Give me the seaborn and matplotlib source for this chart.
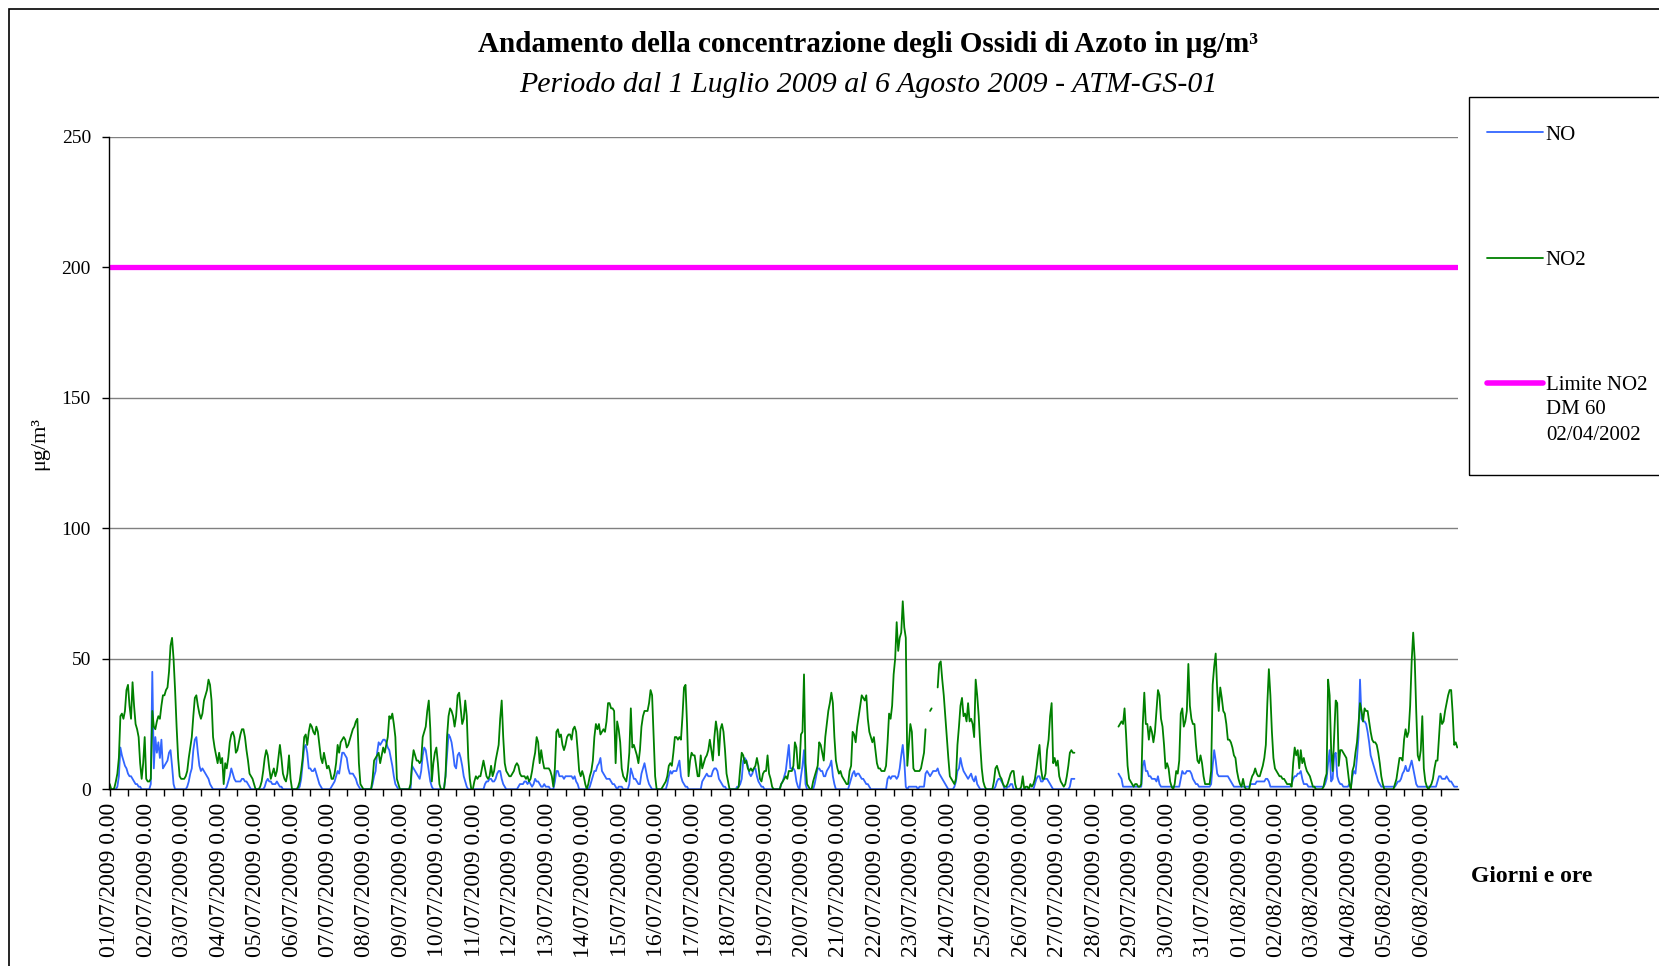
import numpy as np
import pandas as pd
import seaborn as sns
import matplotlib.pyplot as plt
from matplotlib.lines import Line2D
from matplotlib.patches import Rectangle

# valori orari, una lista di 24 ore per giorno (None = dato mancante)
no2_giorni = [
    [2, 0, 0, 0.5, 3, 6, 12, 28, 29, 27, 30, 38, 40, 32, 27, 41, 32, 25, 23, 20, 10, 4, 10, 20],
    [4, 3, 3, 4, 30, 24, 23, 26, 28, 27, 32, 36, 36, 38, 39, 45, 55, 58, 50, 38, 24, 12, 5, 4],
    [4, 4, 5, 7, 12, 16, 20, 28, 35, 36, 32, 29, 27, 29, 34, 36, 38, 42, 40, 34, 20, 16, 13, 10],
    [14, 10, 12, 2, 10, 8, 12, 18, 21, 22, 20, 14, 15, 18, 21, 23, 23, 20, 15, 11, 6, 5, 4, 2],
    [0, 0, 0, 1, 3, 7, 12, 15, 13, 8, 4, 6, 8, 5, 7, 12, 17, 12, 6, 4, 3, 6, 13, 4],
    [0, 0, 0, 0, 1, 3, 7, 12, 20, 21, 17, 22, 25, 24, 22, 21, 24, 22, 17, 12, 10, 14, 11, 8],
    [9, 7, 4, 4, 6, 10, 17, 14, 18, 19, 20, 19, 16, 17, 19, 21, 23, 24, 26, 27, 10, 2, 1, 0],
    [0, 0, 0, 0, 0, 4, 11, 12, 13, 14, 10, 13, 16, 14, 17, 20, 28, 27, 29, 25, 20, 4, 2, 0],
    [0, 0, 0, 0, 0, 0, 2, 10, 15, 13, 11, 11, 10, 11, 20, 22, 24, 30, 34, 23, 3, 10, 14, 16],
    [10, 2, 0, 0, 0, 5, 20, 28, 31, 30, 28, 24, 28, 36, 37, 31, 25, 27, 34, 28, 12, 4, 0, 0],
    [3, 5, 4, 5, 5, 8, 11, 8, 5, 4, 5, 9, 5, 7, 11, 14, 17, 27, 34, 20, 10, 7, 6, 5],
    [5, 6, 7, 9, 10, 9, 6, 5, 5, 5, 4, 5, 3, 4, 7, 11, 14, 20, 18, 10, 15, 11, 8, 8],
    [8, 8, 7, 5, 1, 8, 22, 23, 20, 21, 17, 15, 17, 20, 21, 21, 19, 23, 24, 22, 15, 7, 5, 7],
    [5, 2, 0, 2, 5, 7, 11, 20, 25, 23, 25, 21, 22, 23, 22, 26, 33, 33, 31, 31, 30, 10, 26, 23],
    [18, 8, 5, 4, 3, 7, 14, 31, 16, 17, 15, 13, 10, 15, 24, 28, 30, 30, 30, 33, 38, 36, 20, 5],
    [0, 0, 0, 0, 1, 2, 3, 5, 9, 10, 9, 14, 20, 20, 19, 20, 19, 28, 39, 40, 25, 5, 11, 14],
    [13, 13, 9, 5, 5, 13, 8, 10, 12, 13, 15, 19, 15, 11, 20, 26, 22, 13, 23, 25, 22, 15, 6, 3],
    [0, 0, 0, 0, 0, 0, 1, 8, 14, 13, 10, 11, 8, 7, 8, 7, 8, 9, 12, 9, 4, 3, 6, 7],
    [7, 13, 6, 4, 1, 0, 0, 0, 0, 0, 2, 3, 4, 5, 4, 7, 7, 7, 9, 18, 16, 8, 8, 21],
    [22, 44, 10, 2, 1, 0, 0, 3, 5, 7, 9, 18, 17, 14, 11, 20, 25, 30, 33, 37, 33, 20, 11, 8],
    [6, 7, 5, 4, 3, 2, 2, 7, 9, 22, 21, 18, 24, 28, 32, 36, 35, 34, 36, 27, 22, 20, 18, 20],
    [15, 10, 8, 8, 7, 7, 7, 9, 18, 29, 27, 32, 44, 50, 64, 53, 58, 60, 72, 62, 58, 9, 17, 25],
    [22, 8, 7, 7, 7, 7, 8, 11, 14, 23, None, None, 30, 31, None, None, None, 39, 48, 49, 42, 36, 28, 20],
    [12, 5, 4, 3, 2, 4, 17, 24, 32, 35, 28, 29, 26, 33, 26, 27, 25, 20, 42, 36, 28, 17, 8, 3],
    [1, 0, 0, 0, 0, 0, 3, 8, 9, 7, 5, 4, 2, 1, 1, 2, 4, 6, 7, 7, 2, 0, 0, 0],
    [1, 5, 0, 1, 1, 0, 2, 1, 2, 4, 8, 13, 17, 8, 4, 4, 6, 15, 19, 28, 33, 10, 12, 9],
    [11, 5, 3, 2, 1, 2, 5, 9, 14, 15, 14, 14] + [None] * 12,
    [None] * 16 + [24, 25, 26, 25, 31, 21, 9, 4],
    [3, 2, 1, 2, 2, 1, 1, 2, 25, 37, 25, 25, 19, 24, 22, 18, 22, 30, 38, 36, 27, 24, 17, 8],
    [10, 8, 3, 1, 0, 2, 7, 6, 11, 29, 31, 24, 26, 30, 48, 32, 27, 25, 25, 17, 11, 10, 13, 10],
    [5, 2, 2, 2, 2, 7, 40, 47, 52, 38, 30, 39, 35, 30, 29, 25, 19, 19, 18, 16, 13, 12, 7, 4],
    [2, 1, 4, 1, 0, 0, 0, 3, 5, 6, 8, 6, 5, 5, 7, 9, 12, 17, 33, 46, 36, 22, 12, 8],
    [7, 6, 5, 5, 4, 4, 3, 2, 2, 2, 1, 10, 16, 13, 15, 8, 15, 10, 12, 9, 7, 6, 5, 3],
    [1, 1, 0, 0, 0, 0, 0, 1, 4, 6, 42, 36, 15, 7, 21, 34, 33, 9, 15, 15, 14, 13, 12, 7],
    [2, 0, 7, 9, 14, 18, 25, 33, 30, 26, 31, 30, 30, 26, 22, 19, 18, 18, 17, 14, 10, 5, 2, 0],
    [0, 0, 0, 0, 0, 0, 2, 4, 8, 12, 12, 11, 19, 23, 20, 22, 32, 49, 60, 50, 30, 13, 11, 15],
    [28, 8, 3, 1, 0, 1, 2, 4, 8, 11, 11, 20, 29, 25, 26, 30, 33, 36, 38, 38, 29, 17, 18, 16],
]

no_giorni = [
    [0, 0, 0, 0, 0, 1, 5, 16, 13, 11, 9, 8, 6, 5, 5, 4, 3, 2, 2, 1, 1, 0, 0, 0],
    [0, 0, 0, 2, 45, 8, 20, 14, 18, 12, 19, 8, 9, 10, 11, 14, 15, 9, 2, 0, 0, 0, 0, 0],
    [0, 0, 0, 1, 3, 6, 8, 15, 19, 20, 14, 9, 7, 8, 7, 6, 5, 4, 2, 1, 0, 0, 0, 0],
    [0, 0, 0, 0, 0, 1, 3, 5, 8, 6, 4, 3, 3, 3, 3, 4, 4, 3, 3, 2, 1, 0, 0, 0],
    [0, 0, 0, 0, 0, 0, 1, 3, 4, 3, 3, 2, 2, 2, 3, 2, 1, 1, 0, 0, 0, 0, 0, 0],
    [0, 0, 0, 0, 0, 1, 4, 10, 16, 17, 14, 8, 8, 7, 7, 8, 6, 4, 2, 1, 0, 0, 0, 0],
    [0, 0, 1, 2, 3, 5, 7, 6, 10, 14, 14, 13, 12, 8, 6, 6, 6, 5, 4, 2, 1, 0, 0, 0],
    [0, 0, 0, 0, 0, 2, 5, 7, 14, 18, 17, 18, 19, 19, 18, 16, 15, 12, 9, 5, 2, 1, 0, 0],
    [0, 0, 0, 0, 0, 0, 0, 9, 8, 7, 6, 5, 4, 7, 13, 16, 15, 11, 7, 3, 1, 0, 0, 0],
    [0, 0, 0, 0, 0, 5, 13, 21, 20, 18, 14, 9, 8, 13, 14, 12, 9, 5, 3, 1, 0, 0, 0, 0],
    [0, 0, 0, 0, 0, 0, 0, 2, 3, 3, 4, 4, 3, 3, 4, 6, 7, 7, 4, 2, 1, 0, 0, 0],
    [0, 0, 0, 0, 0, 1, 2, 2, 2, 3, 3, 2, 3, 2, 1, 2, 4, 3, 3, 2, 1, 1, 2, 1],
    [1, 1, 0, 0, 0, 3, 7, 7, 5, 5, 5, 4, 5, 5, 5, 5, 5, 4, 5, 3, 2, 0, 0, 0],
    [0, 0, 0, 0, 1, 3, 5, 7, 7, 9, 10, 12, 7, 6, 5, 4, 4, 4, 3, 2, 2, 1, 0, 1],
    [1, 1, 0, 0, 0, 0, 2, 8, 6, 4, 4, 3, 2, 2, 6, 8, 10, 7, 4, 2, 1, 0, 0, 0],
    [0, 0, 0, 0, 0, 0, 0, 2, 5, 7, 6, 7, 7, 7, 9, 11, 5, 3, 2, 1, 1, 0, 0, 0],
    [0, 0, 0, 0, 0, 0, 3, 4, 5, 6, 5, 5, 5, 7, 8, 8, 7, 4, 3, 2, 1, 1, 0, 0],
    [0, 0, 0, 0, 0, 1, 1, 2, 4, 11, 12, 11, 9, 6, 5, 6, 8, 8, 5, 3, 2, 1, 1, 0],
    [0, 0, 0, 0, 0, 0, 0, 0, 0, 0, 2, 3, 5, 7, 12, 17, 8, 8, 8, 7, 3, 1, 0, 5],
    [9, 15, 2, 0, 0, 0, 0, 0, 2, 5, 8, 8, 7, 7, 5, 5, 7, 8, 9, 11, 5, 2, 0, 0],
    [0, 0, 0, 0, 0, 0, 0, 2, 4, 6, 7, 5, 6, 6, 5, 4, 4, 3, 2, 2, 1, 0, 0, 0],
    [0, 0, 0, 0, 0, 0, 0, 0, 4, 5, 4, 5, 5, 5, 4, 5, 8, 13, 17, 11, 1, 0, 1, 1],
    [1, 1, 1, 1, 0, 1, 1, 1, 1, 6, 7, 6, 5, 6, 7, 7, 7, 8, 6, 5, 4, 3, 2, 1],
    [0, 0, 0, 0, 1, 3, 7, 8, 12, 9, 7, 6, 5, 4, 5, 6, 4, 3, 5, 2, 1, 0, 0, 0],
    [0, 0, 0, 0, 0, 0, 0, 1, 3, 4, 4, 3, 2, 0, 0, 1, 1, 2, 2, 0, 0, 0, 0, 0],
    [0, 0, 0, 0, 0, 0, 0, 0, 0, 2, 4, 5, 5, 3, 3, 4, 4, 4, 3, 2, 1, 0, 0, 0],
    [0, 0, 0, 0, 0, 0, 0, 0, 1, 4, 4, 4] + [None] * 12,
    [None] * 16 + [6, 5, 4, 1, 1, 1, 1, 1],
    [1, 1, 1, 1, 1, 1, 1, 1, 9, 11, 7, 7, 5, 5, 4, 4, 4, 3, 5, 2, 1, 1, 1, 1],
    [1, 1, 1, 1, 1, 1, 1, 1, 1, 4, 7, 6, 6, 7, 7, 7, 6, 4, 3, 2, 2, 1, 1, 1],
    [1, 1, 1, 1, 1, 2, 9, 15, 11, 6, 5, 5, 5, 5, 5, 5, 5, 4, 3, 2, 1, 1, 1, 1],
    [1, 1, 1, 1, 1, 1, 1, 2, 2, 2, 2, 3, 3, 3, 3, 3, 3, 4, 4, 3, 1, 1, 1, 1],
    [1, 1, 1, 1, 1, 1, 1, 1, 1, 1, 2, 4, 5, 5, 6, 6, 7, 4, 2, 2, 2, 1, 1, 1],
    [1, 1, 1, 1, 1, 1, 1, 1, 2, 4, 10, 15, 3, 4, 13, 14, 5, 3, 2, 2, 1, 1, 1, 1],
    [2, 1, 5, 7, 6, 12, 20, 42, 27, 26, 26, 25, 22, 18, 13, 11, 9, 7, 5, 3, 2, 1, 1, 1],
    [1, 1, 1, 1, 1, 1, 1, 2, 3, 3, 4, 6, 7, 9, 7, 7, 9, 11, 8, 5, 2, 1, 1, 1],
    [1, 1, 1, 1, 1, 1, 1, 1, 1, 1, 3, 5, 5, 4, 4, 4, 5, 4, 3, 3, 2, 1, 1, 1],
]

limite_no2 = 200
giorni = pd.date_range('2009-07-01', '2009-08-06', freq='D')
etichette = [d.strftime('%d/%m/%Y') + ' 0.00' for d in giorni]

colori = {'NO': '#3366FF', 'NO2': '#008000'}
magenta = '#FF00FF'

no2 = np.array([np.nan if v is None else v for g in no2_giorni for v in g], dtype=float)
no = np.array([np.nan if v is None else v for g in no_giorni for v in g], dtype=float)
ore = np.arange(len(no2))


def tratti(valori, nome):
    # spezza la serie dove mancano i dati, cosi' la linea resta interrotta
    buco = np.isnan(valori)
    df = pd.DataFrame({'ora': ore, 'valore': valori, 'serie': nome,
                       'tratto': np.cumsum(buco)})
    return df[~buco]


dati = pd.concat([tratti(no, 'NO'), tratti(no2, 'NO2')], ignore_index=True)

sns.set_theme(style='ticks', rc={'axes.edgecolor': 'black', 'xtick.color': 'black',
                                 'ytick.color': 'black', 'text.color': 'black'})
plt.rcParams['font.family'] = ['Liberation Serif', 'DejaVu Serif']

W, H = 1659, 966
fig = plt.figure(figsize=(W / 100, H / 100), dpi=100)
ax = fig.add_axes([109 / W, 1 - 789.3 / H, (1458 - 109) / W, (789.3 - 136.5) / H])

sns.lineplot(data=dati, x='ora', y='valore', hue='serie', units='tratto', estimator=None,
             hue_order=['NO', 'NO2'], palette=colori, linewidth=1.3, legend=False, ax=ax)
sns.lineplot(x=ore, y=np.full(len(ore), limite_no2), color=magenta, linewidth=3.8, ax=ax)

ax.set_xlim(-0.5, len(ore) - 0.5)
ax.set_ylim(0, 250)
ax.set_yticks([0, 50, 100, 150, 200, 250])
ax.set_xticks(np.arange(0, len(ore), 24))
ax.set_xticklabels(etichette, rotation=90, fontsize=17)
ax.set_xticks(np.arange(12, len(ore), 24), minor=True)
ax.grid(axis='y', color='#808080', linewidth=1)
ax.set_axisbelow(True)
ax.set_xlabel('')
ax.set_ylabel('')
for s in ['top', 'right']:
    ax.spines[s].set_visible(False)
for s in ['left', 'bottom']:
    ax.spines[s].set_color('black')
    ax.spines[s].set_linewidth(1)
ax.tick_params(axis='y', left=True, length=5, width=1, pad=8, labelsize=14)
ax.tick_params(axis='x', which='both', bottom=True, length=5, width=1, pad=5)

fig.text(868 / W, 1 - 45 / H, 'Andamento della concentrazione degli Ossidi di Azoto in μg/m³',
         ha='center', va='center', fontsize=21, fontweight='bold')
fig.text(868 / W, 1 - 85 / H, 'Periodo dal 1 Luglio 2009 al 6 Agosto 2009 - ATM-GS-01',
         ha='center', va='center', fontsize=21.5, style='italic')
fig.text(40 / W, 1 - 444 / H, 'μg/m³', rotation=90, ha='center', va='center', fontsize=16)
fig.text(1532 / W, 1 - 876 / H, 'Giorni e ore', ha='center', va='center',
         fontsize=17, fontweight='bold')

# legenda
maniglie = [Line2D([], [], color=colori['NO'], lw=1.3),
            Line2D([], [], color=colori['NO2'], lw=1.3),
            Line2D([], [], color=magenta, lw=4)]
fig.legend(maniglie, ['NO', 'NO2', 'Limite NO2'], loc='upper left',
           bbox_to_anchor=(1487 / W, 1 - 125 / H), frameon=False, fontsize=15,
           handlelength=2.7, handletextpad=0.12, labelspacing=5.07, borderpad=0,
           borderaxespad=0)
fig.text(1546 / W, 1 - 410 / H, 'DM 60', ha='left', va='center', fontsize=15)
fig.text(1546 / W, 1 - 436 / H, '02/04/2002', ha='left', va='center', fontsize=15)
fig.add_artist(Rectangle((1469 / W, 1 - 475 / H), 0.2, (475 - 97) / H,
                         transform=fig.transFigure, fill=False, edgecolor='black', lw=1))
fig.add_artist(Rectangle((8.5 / W, -0.5), 2, 1.5 - 8.5 / H,
                         transform=fig.transFigure, fill=False, edgecolor='black', lw=1.2))

fig.savefig('out.png', dpi=100)
